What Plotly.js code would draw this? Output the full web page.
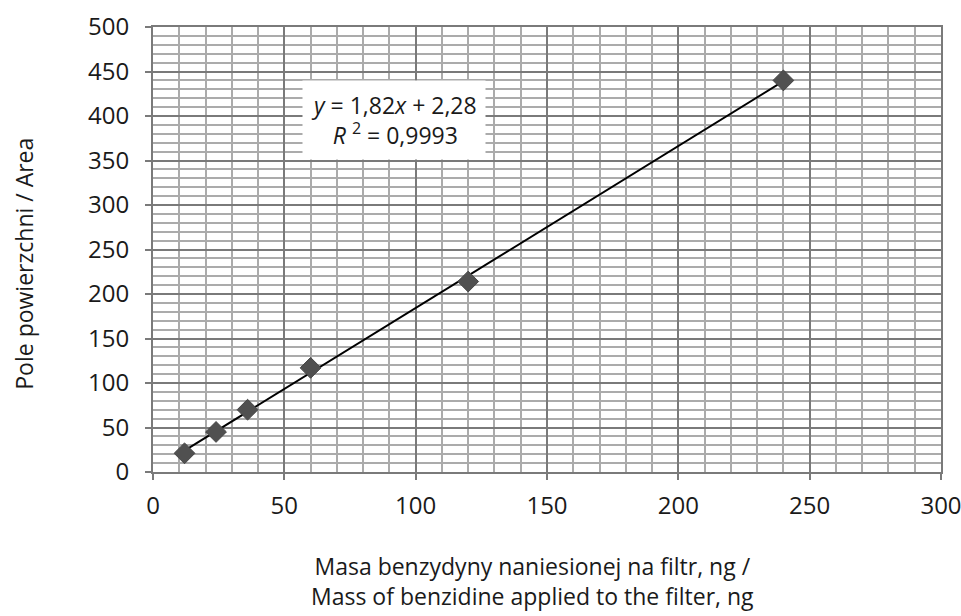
<!DOCTYPE html>
<html>
<head>
<meta charset="utf-8">
<script src="https://cdn.plot.ly/plotly-3.0.1.min.js"></script>
<style>html,body{margin:0;padding:0;background:#fff;}#chart{width:961px;height:616px;}</style>
</head>
<body>
<div id="chart"></div>
<script>
// Data
const massNg = [12, 24, 36, 60, 120, 240];
const area = [21, 45, 70, 117, 214, 440];
// Linear trendline reported on chart
const slope = 1.82;
const intercept = 2.28;
const trendX = [12, 240];
const trendY = trendX.map(x => slope * x + intercept);
const xTicks = [0, 50, 100, 150, 200, 250, 300];
const yTicks = [0, 50, 100, 150, 200, 250, 300, 350, 400, 450, 500];
const eqText = "<i>y</i> = 1,82<i>x</i> + 2,28<br><i>R</i> <sup>2</sup> = 0,9993";
const xTitle = "Masa benzydyny naniesionej na filtr, ng /<br>Mass of benzidine applied to the filter, ng";
const yTitle = "Pole powierzchni / Area";

const font = "Open Sans, Noto Sans, sans-serif";
const txt = "#1a1a1a";

const traces = [
  {
    x: trendX, y: trendY, mode: "lines", type: "scatter",
    line: {color: "#000000", width: 2}, hoverinfo: "skip", showlegend: false
  },
  {
    x: massNg, y: area, mode: "markers", type: "scatter",
    marker: {symbol: "diamond", size: 16, color: "#505050", line: {color: "#454545", width: 1}},
    showlegend: false
  }
];

const axisCommon = {
  showgrid: true, gridcolor: "#7a7a7a", gridwidth: 2,
  minor: {dtick: 10, showgrid: true, gridcolor: "#ababab", gridwidth: 2},
  showline: true, linecolor: "#7a7a7a", linewidth: 2, mirror: true,
  ticks: "outside", ticklen: 6, tickcolor: "#7a7a7a", tickwidth: 2,
  zeroline: false, automargin: false, ticklabeloverflow: "allow",
  tickfont: {family: font, size: 24, color: txt}
};

const layout = {
  width: 961, height: 616,
  margin: {l: 153, r: 20, t: 27, b: 144},
  paper_bgcolor: "#ffffff", plot_bgcolor: "#ffffff",
  font: {family: font, size: 21, color: txt},
  showlegend: false,
  xaxis: Object.assign({}, axisCommon, {
    range: [0, 300], tickvals: xTicks, ticktext: xTicks.map(String),
    ticklabelstandoff: 5
  }),
  yaxis: Object.assign({}, axisCommon, {
    range: [0, 500], tickvals: yTicks, ticktext: yTicks.map(String),
    ticklabelstandoff: 11
  }),
  annotations: [
    {
      x: 91.6, y: 395.5, xref: "x", yref: "y", text: eqText, showarrow: false,
      bgcolor: "#ffffff", borderpad: 8, align: "center",
      font: {family: font, size: 23, color: txt}
    },
    {
      x: 0.481, y: -0.17, xref: "paper", yref: "paper", xanchor: "center", yanchor: "top",
      text: xTitle, showarrow: false, align: "center",
      font: {family: font, size: 23, color: txt}
    },
    {
      x: -0.163, y: 0.467, xref: "paper", yref: "paper", xanchor: "center", yanchor: "middle",
      text: yTitle, showarrow: false, textangle: -90,
      font: {family: font, size: 23, color: txt}
    }
  ]
};

Plotly.newPlot("chart", traces, layout, {displayModeBar: false, staticPlot: true});
</script>
</body>
</html>
